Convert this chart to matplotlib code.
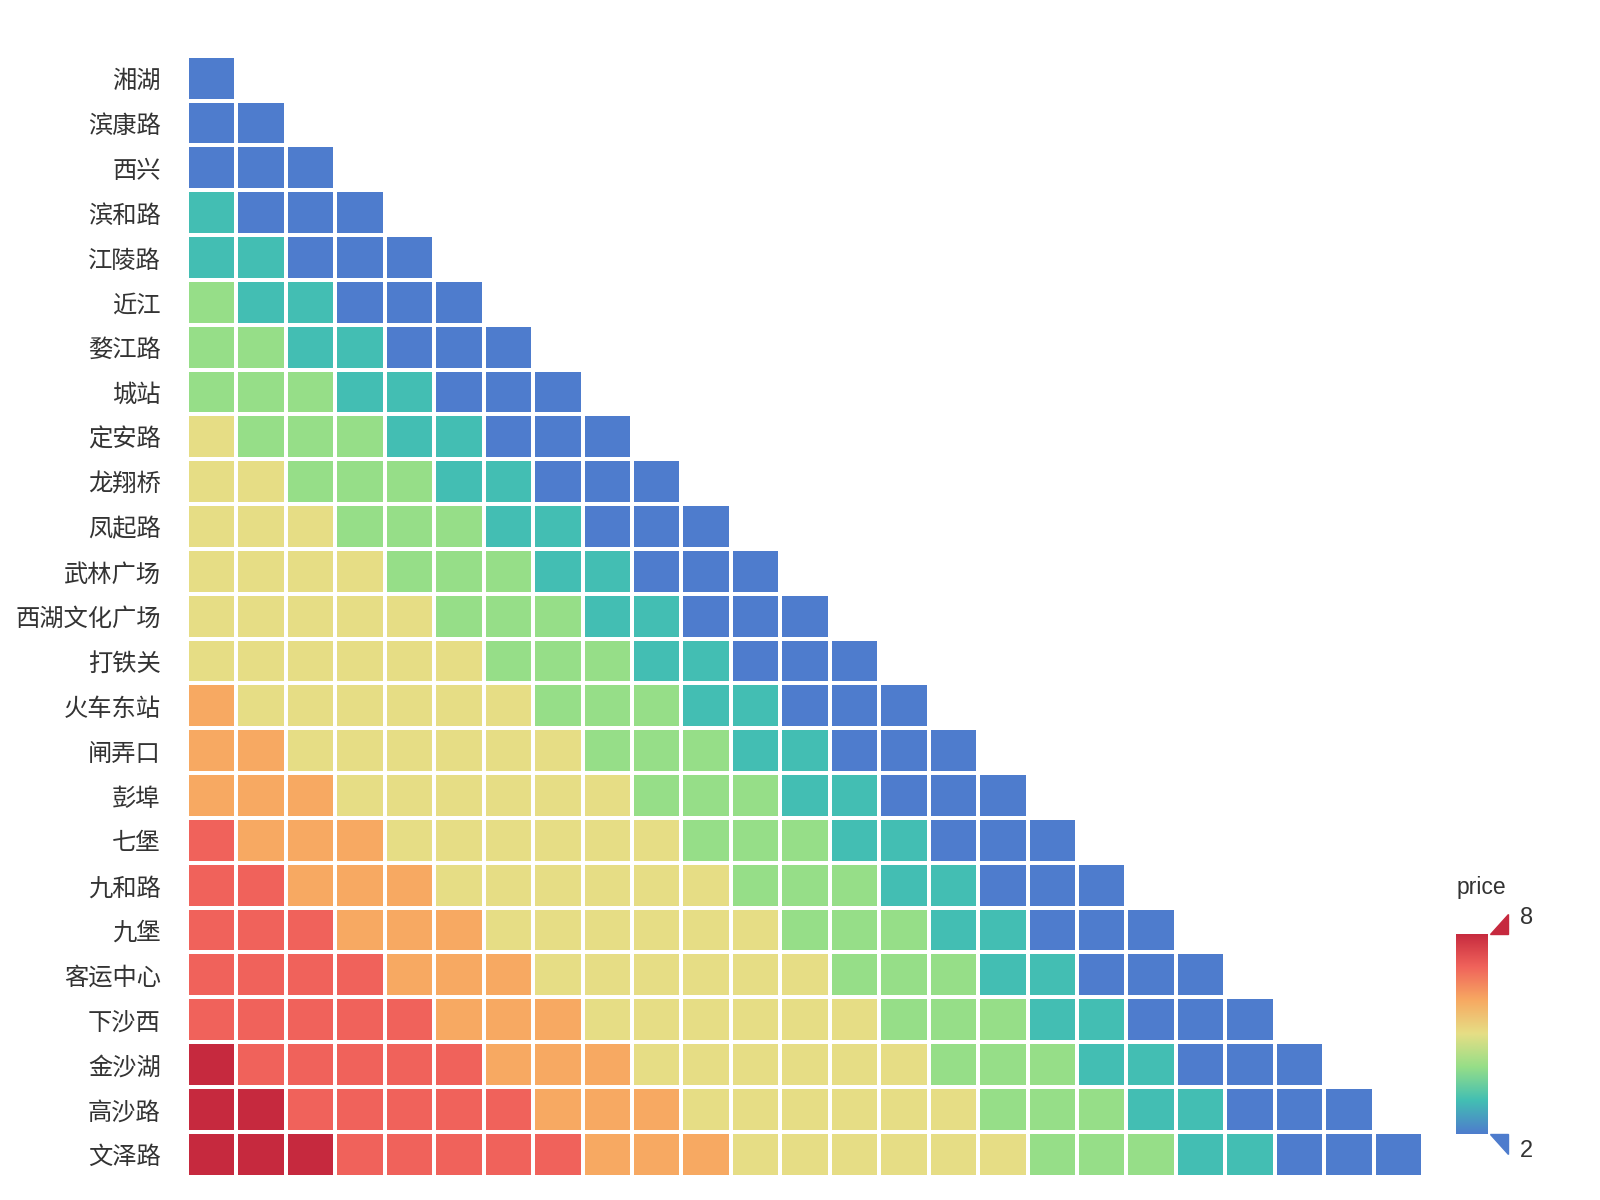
import numpy as np
import matplotlib
matplotlib.use("Agg")
import matplotlib.pyplot as plt
from matplotlib.colors import LinearSegmentedColormap
from matplotlib.patches import Polygon

plt.rcParams['font.family'] = ['Noto Sans CJK SC', 'DejaVu Sans']

stations = ['湘湖', '滨康路', '西兴', '滨和路', '江陵路', '近江', '婺江路', '城站',
            '定安路', '龙翔桥', '凤起路', '武林广场', '西湖文化广场', '打铁关',
            '火车东站', '闸弄口', '彭埠', '七堡', '九和路', '九堡', '客运中心',
            '下沙西', '金沙湖', '高沙路', '文泽路']

# price from station in row to station in column (lower triangle)
price_rows = [
    [2],
    [2, 2],
    [2, 2, 2],
    [3, 2, 2, 2],
    [3, 3, 2, 2, 2],
    [4, 3, 3, 2, 2, 2],
    [4, 4, 3, 3, 2, 2, 2],
    [4, 4, 4, 3, 3, 2, 2, 2],
    [5, 4, 4, 4, 3, 3, 2, 2, 2],
    [5, 5, 4, 4, 4, 3, 3, 2, 2, 2],
    [5, 5, 5, 4, 4, 4, 3, 3, 2, 2, 2],
    [5, 5, 5, 5, 4, 4, 4, 3, 3, 2, 2, 2],
    [5, 5, 5, 5, 5, 4, 4, 4, 3, 3, 2, 2, 2],
    [5, 5, 5, 5, 5, 5, 4, 4, 4, 3, 3, 2, 2, 2],
    [6, 5, 5, 5, 5, 5, 5, 4, 4, 4, 3, 3, 2, 2, 2],
    [6, 6, 5, 5, 5, 5, 5, 5, 4, 4, 4, 3, 3, 2, 2, 2],
    [6, 6, 6, 5, 5, 5, 5, 5, 5, 4, 4, 4, 3, 3, 2, 2, 2],
    [7, 6, 6, 6, 5, 5, 5, 5, 5, 5, 4, 4, 4, 3, 3, 2, 2, 2],
    [7, 7, 6, 6, 6, 5, 5, 5, 5, 5, 5, 4, 4, 4, 3, 3, 2, 2, 2],
    [7, 7, 7, 6, 6, 6, 5, 5, 5, 5, 5, 5, 4, 4, 4, 3, 3, 2, 2, 2],
    [7, 7, 7, 7, 6, 6, 6, 5, 5, 5, 5, 5, 5, 4, 4, 4, 3, 3, 2, 2, 2],
    [7, 7, 7, 7, 7, 6, 6, 6, 5, 5, 5, 5, 5, 5, 4, 4, 4, 3, 3, 2, 2, 2],
    [8, 7, 7, 7, 7, 7, 6, 6, 6, 5, 5, 5, 5, 5, 5, 4, 4, 4, 3, 3, 2, 2, 2],
    [8, 8, 7, 7, 7, 7, 7, 6, 6, 6, 5, 5, 5, 5, 5, 5, 4, 4, 4, 3, 3, 2, 2, 2],
    [8, 8, 8, 7, 7, 7, 7, 7, 6, 6, 6, 5, 5, 5, 5, 5, 5, 4, 4, 4, 3, 3, 2, 2, 2],
]

vmin, vmax = 2, 8
colors = ['#4e7ccd', '#43bfb3', '#96de88', '#e6de85', '#f7a962', '#f0635b', '#c6293e']
cmap = LinearSegmentedColormap.from_list('price', colors)

n = len(stations)
grid = np.full((n, n), np.nan)
for i, row in enumerate(price_rows):
    grid[i, :len(row)] = row
grid = np.ma.masked_invalid(grid)

fig = plt.figure(figsize=(16, 12), dpi=100)
ax = fig.add_axes([0.1169, 0.0195, 0.7725, 0.934])
ax.pcolormesh(np.arange(n + 1), np.arange(n + 1), grid, cmap=cmap, vmin=vmin, vmax=vmax,
              edgecolors='white', linewidth=1.5)
ax.set_xlim(0, n)
ax.set_ylim(n, 0)
ax.set_yticks(np.arange(n) + 0.5)
ax.set_yticklabels(stations, fontsize=17.5, color='#333333', va='center_baseline')
ax.set_xticks([])
ax.tick_params(axis='y', length=0, pad=19)
for s in ax.spines.values():
    s.set_visible(False)

# visual map style colorbar
lab_font = ['Liberation Sans', 'DejaVu Sans']
cax = fig.add_axes([0.91, 0.055, 0.02, 0.1667])
grad = np.linspace(vmin, vmax, 256).reshape(-1, 1)
cax.imshow(grad, extent=[0, 1, vmin, vmax], origin='lower', aspect='auto', cmap=cmap,
           vmin=vmin, vmax=vmax)
cax.set_xlim(0, 1)
cax.set_ylim(vmin, vmax)
cax.axis('off')
cax.add_patch(Polygon([(1.06, vmax), (1.625, vmax), (1.625, vmax + 0.6)], closed=True,
                      color=colors[-1], clip_on=False))
cax.add_patch(Polygon([(1.06, vmin), (1.625, vmin), (1.625, vmin - 0.6)], closed=True,
                      color=colors[0], clip_on=False))
cax.text(2.0, vmax + 0.48, str(vmax), fontsize=17, color='#333333', va='center', ha='left',
         family=lab_font)
cax.text(2.0, vmin - 0.52, str(vmin), fontsize=17, color='#333333', va='center', ha='left',
         family=lab_font)
cax.text(0.8, vmax + 1.38, 'price', fontsize=16.5, color='#333333', va='center', ha='center',
         family=lab_font)

fig.savefig('out.png', dpi=100, facecolor='white')
